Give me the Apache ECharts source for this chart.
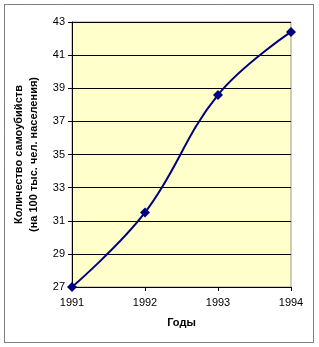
<!DOCTYPE html>
<html><head><meta charset="utf-8">
<script src="https://cdn.jsdelivr.net/npm/echarts@6/dist/echarts.min.js"></script>
<style>html,body{margin:0;padding:0;background:#fff}#c{width:319px;height:347px}</style>
</head><body><div id="c"></div>
<script>
var years = ['1991','1992','1993','1994'];
var suicides = [27.0, 31.5, 38.6, 42.4];
var yTicks = [27,29,31,33,35,37,39,41,43];
var xTitle = 'Годы';
var yTitle = 'Количество самоубийств\n(на 100 тыс. чел. населения)';

var chart = echarts.init(document.getElementById('c'), null, {renderer:'canvas'});
var font = 'Liberation Sans, Arial, sans-serif';
chart.setOption({
  animation:false,
  backgroundColor:'#fff',
  graphic:[{type:'rect', shape:{x:4.5,y:4.5,width:309,height:338}, style:{fill:null, stroke:'#000', lineWidth:1, lineDash:[1,1]}, z:-1}],
  grid:{left:72, top:22, width:219, height:265, show:true, backgroundColor:'#FFFFCC', borderColor:'#999', borderWidth:1},
  xAxis:{type:'category', data:years, boundaryGap:false,
    name:xTitle, nameLocation:'middle', nameGap:30,
    nameTextStyle:{fontFamily:font, fontSize:11, fontWeight:'bold', color:'#000'},
    axisLine:{lineStyle:{color:'#000'}}, axisTick:{show:true, length:4, lineStyle:{color:'#000'}},
    axisLabel:{fontFamily:font, fontSize:11, color:'#000', margin:10},
    splitLine:{show:false}},
  yAxis:{type:'value', min:yTicks[0], max:yTicks[yTicks.length-1], interval:2,
    name:yTitle, nameLocation:'middle', nameGap:27, nameRotate:90,
    nameTextStyle:{fontFamily:font, fontSize:11, fontWeight:'bold', color:'#000', lineHeight:15},
    axisLine:{show:true, lineStyle:{color:'#000'}}, axisTick:{show:true, length:4, lineStyle:{color:'#000'}},
    axisLabel:{fontFamily:font, fontSize:11, color:'#000', margin:7},
    splitLine:{show:true, lineStyle:{color:'#000', width:1}}},
  series:[{type:'line', data:suicides, smooth:0.4, symbol:'diamond', symbolSize:10,
    lineStyle:{color:'#000080', width:2}, itemStyle:{color:'#000080'}}]
});
</script></body></html>
